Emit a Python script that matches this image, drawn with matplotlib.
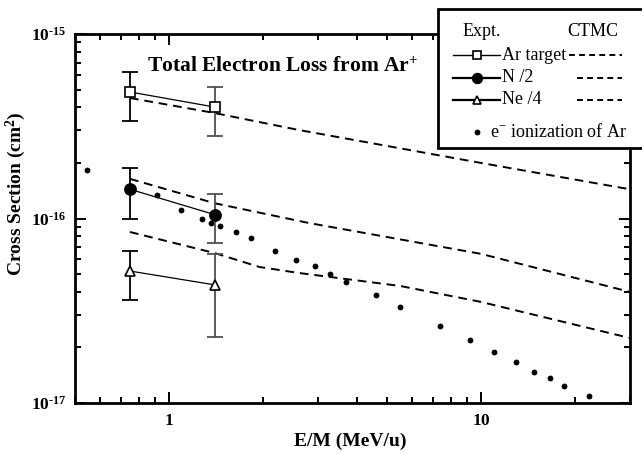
import matplotlib as mpl
mpl.use('Agg')
import matplotlib.pyplot as plt
from matplotlib.ticker import FuncFormatter, NullFormatter, LogLocator
from matplotlib.lines import Line2D
from matplotlib.patches import Rectangle
import numpy as np

plt.rcParams['font.family'] = ['Liberation Serif', 'DejaVu Serif']
plt.rcParams['mathtext.fontset'] = 'custom'
plt.rcParams['mathtext.rm'] = 'Liberation Serif'
plt.rcParams['mathtext.bf'] = 'Liberation Serif:bold'
plt.rcParams['mathtext.it'] = 'Liberation Serif:italic'

# measured total electron loss (E/M in MeV/u, cross section in cm^2)
energy_expt = [0.75, 1.4]
ar_sigma = [4.85e-16, 4.02e-16]
ar_lo = [3.38e-16, 2.80e-16]
ar_hi = [6.22e-16, 5.16e-16]
n_sigma = [1.44e-16, 1.05e-16]
n_lo = [1.00e-16, 7.35e-17]
n_hi = [1.88e-16, 1.36e-16]
ne_sigma = [5.19e-17, 4.37e-17]
ne_lo = [3.63e-17, 2.29e-17]
ne_hi = [6.67e-17, 6.45e-17]

# CTMC calculations
ctmc_ar_e = [0.75, 1.4, 2.6, 10, 30]
ctmc_ar = [4.5e-16, 3.73e-16, 3.02e-16, 2.0e-16, 1.44e-16]
ctmc_n_e = [0.75, 1.4, 2.8, 10, 30]
ctmc_n = [1.64e-16, 1.21e-16, 9.46e-17, 6.43e-17, 4.0e-17]
ctmc_ne_e = [0.75, 1.4, 1.95, 2.6, 5.5, 10, 30]
ctmc_ne = [8.45e-17, 6.5e-17, 5.46e-17, 5.07e-17, 4.31e-17, 3.53e-17, 2.25e-17]

# electron impact ionization of Ar
eion_e = [0.545, 0.915, 1.093, 1.277, 1.365, 1.46, 1.64, 1.835, 2.19, 2.56, 2.93,
          3.29, 3.68, 4.6, 5.49, 7.38, 9.22, 11.0, 12.95, 14.8, 16.6, 18.5, 22.2]
eion = [1.83e-16, 1.34e-16, 1.11e-16, 1.0e-16, 9.5e-17, 9.1e-17, 8.5e-17, 7.8e-17,
        6.67e-17, 5.96e-17, 5.53e-17, 5.0e-17, 4.53e-17, 3.85e-17, 3.31e-17, 2.61e-17,
        2.19e-17, 1.89e-17, 1.66e-17, 1.47e-17, 1.36e-17, 1.24e-17, 1.09e-17]

x_ticks = [1, 10]
y_ticks = [1e-17, 1e-16, 1e-15]

W, H = 642, 454


def fx(x):
    return x / W


def fy(y):
    return 1 - y / H


fig = plt.figure(figsize=(W / 100, H / 100), dpi=100)
ax = fig.add_axes([fx(75), fy(403), fx(630) - fx(75), fy(34) - fy(403)])
ax.set_xscale('log')
ax.set_yscale('log')

dash = (0, (4.5, 3))
for e, s in [(ctmc_ar_e, ctmc_ar), (ctmc_n_e, ctmc_n), (ctmc_ne_e, ctmc_ne)]:
    ax.plot(e, s, color='black', lw=1.4, linestyle=dash)

ax.plot(eion_e, eion, 'o', color='black', ms=4.2, mec='none')

err_colors = ['black', '#505050']
series = [(ar_sigma, ar_lo, ar_hi, 's', 6.5, 'white'),
          (n_sigma, n_lo, n_hi, 'o', 8.0, 'black'),
          (ne_sigma, ne_lo, ne_hi, '^', 7.5, 'white')]
for sig, lo, hi, mk, ms, fc in series:
    for i, e in enumerate(energy_expt):
        ax.errorbar([e], [sig[i]], yerr=[[sig[i] - lo[i]], [hi[i] - sig[i]]],
                    fmt='none', ecolor=err_colors[i], elinewidth=1.3,
                    capsize=6, capthick=1.3, zorder=3)
    ax.plot(energy_expt, sig, '-', color='black', lw=0.9, zorder=4)
    ax.plot(energy_expt, sig, mk, mfc=fc, mec='black', mew=1.2, ms=ms, zorder=5)

ax.set_xticks(x_ticks)
ax.set_yticks(y_ticks)
ax.xaxis.set_minor_locator(LogLocator(base=10, subs=np.arange(2, 10), numticks=20))
ax.yaxis.set_minor_locator(LogLocator(base=10, subs=np.arange(2, 10), numticks=20))
ax.xaxis.set_major_formatter(FuncFormatter(lambda v, p: r'$\mathbf{%g}$' % v))
ax.yaxis.set_major_formatter(FuncFormatter(
    lambda v, p: r'$\mathbf{10^{\text{-}%d}}$' % int(round(-np.log10(v)))))
ax.xaxis.set_minor_formatter(NullFormatter())
ax.yaxis.set_minor_formatter(NullFormatter())
ax.set_xlim(0.5, 30)
ax.set_ylim(1e-17, 1e-15)
ax.tick_params(which='both', direction='in', top=True, right=True, width=1.4)
ax.tick_params(which='major', length=8, labelsize=12.5)
ax.tick_params(axis='x', which='major', pad=7)
ax.tick_params(axis='y', which='major', pad=6)
ax.tick_params(which='minor', length=4.5)
for sp in ax.spines.values():
    sp.set_linewidth(2)

fig.text(fx(350), fy(441), 'E/M (MeV/u)', fontsize=14, fontweight='bold',
         ha='center', va='center')
fig.text(fx(16), fy(194), r'Cross Section (cm$^{\mathbf{2}}$)', fontsize=14,
         fontweight='bold', rotation=90, ha='center', va='center')
ax.text(0.13, 0.911, r'Total Electron Loss from Ar$^{\mathbf{+}}$', transform=ax.transAxes,
        fontsize=15.5, fontweight='bold', ha='left', va='center')

# legend box, partly outside the figure on the right
fig.add_artist(Rectangle((fx(438), fy(148)), fx(660) - fx(438), fy(9) - fy(148),
                         transform=fig.transFigure, facecolor='white',
                         edgecolor='black', lw=2, zorder=10, clip_on=False))
fs = 13
fig.text(fx(463), fy(32), 'Expt.', fontsize=fs, va='center', zorder=11)
fig.text(fx(567), fy(32), 'CTMC', fontsize=fs, va='center', zorder=11)
rows = [(55, 's', 5.5, 'white', 'Ar target', 569, 1.0),
        (78, 'o', 7.0, 'black', 'N /2', 577, 1.6),
        (100, '^', 6.0, 'white', 'Ne /4', 577, 1.6)]
for y, mk, ms, fc, label, dx0, lw in rows:
    fig.add_artist(Line2D([fx(453), fx(500)], [fy(y), fy(y)], color='black', lw=lw,
                          transform=fig.transFigure, zorder=11))
    fig.add_artist(Line2D([fx(477)], [fy(y)], marker=mk, ms=ms, mfc=fc, mec='black',
                          mew=1.2, transform=fig.transFigure, zorder=12))
    fig.text(fx(502), fy(y), label, fontsize=fs, va='center', zorder=11)
    fig.add_artist(Line2D([fx(dx0), fx(622)], [fy(y), fy(y)], color='black', lw=1.4,
                          linestyle=(0, (3, 2.2)), transform=fig.transFigure, zorder=11))
fig.add_artist(Line2D([fx(477)], [fy(132)], marker='o', ms=4.2, color='black', mec='none',
                      transform=fig.transFigure, zorder=12))
fig.text(fx(490), fy(132), r'e$^{-}$ ionization of Ar', fontsize=fs, va='center', zorder=11)

fig.savefig('out.png', dpi=100)
